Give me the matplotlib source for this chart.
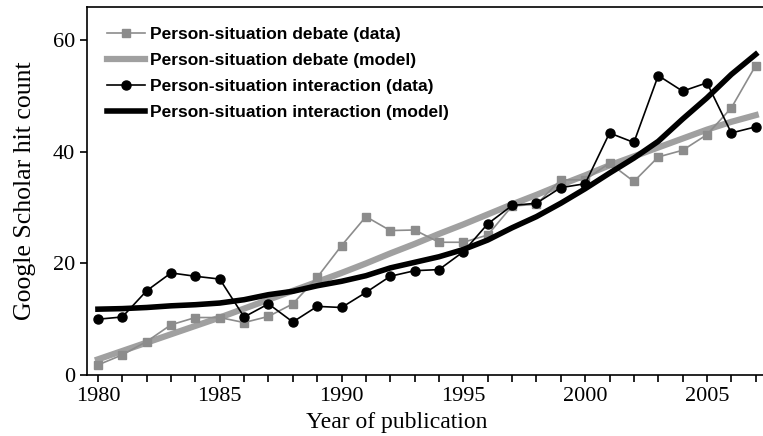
import matplotlib.pyplot as plt
from matplotlib.ticker import MultipleLocator

years = list(range(1980, 2008))

debate_data = [1.8, 3.6, 6.0, 9.0, 10.3, 10.3, 9.4, 10.5, 12.75, 17.5,
               23.2, 28.4, 25.9, 26.0, 23.8, 23.8, 25.1, 30.3, 30.6, 35.0,
               35.0, 38.0, 34.7, 39.1, 40.3, 43.1, 47.9, 55.5]
debate_model = [2.8, 4.3, 5.8, 7.3, 8.8, 10.3, 11.9, 13.5, 15.1, 16.7,
                18.3, 20.0, 21.8, 23.5, 25.3, 27.0, 28.8, 30.6, 32.3, 34.1,
                35.8, 37.6, 39.2, 40.8, 42.4, 44.0, 45.4, 46.6]
interaction_data = [10.0, 10.4, 15.1, 18.3, 17.7, 17.2, 10.4, 12.75, 9.5, 12.3,
                    12.1, 14.8, 17.7, 18.7, 18.9, 22.1, 27.1, 30.4, 30.8, 33.6,
                    34.3, 43.4, 41.7, 53.7, 50.9, 52.4, 43.4, 44.5]
interaction_model = [11.8, 11.9, 12.1, 12.4, 12.6, 12.9, 13.5, 14.4, 15.0, 16.0,
                     16.8, 17.8, 19.2, 20.2, 21.2, 22.5, 24.2, 26.4, 28.4, 30.8,
                     33.4, 36.2, 38.9, 41.9, 45.9, 49.7, 53.9, 57.5]

labels = ["Person-situation debate (data)", "Person-situation debate (model)",
          "Person-situation interaction (data)", "Person-situation interaction (model)"]

fig = plt.figure(figsize=(7.63, 4.36), dpi=100)
ax = fig.add_axes([0.114, 0.14, 0.886, 0.844])

ax.plot(years, debate_data, color="#8c8c8c", lw=1.2, marker="s", ms=6,
        label=labels[0], zorder=3)
ax.plot(years, debate_model, color="#a0a0a0", lw=4.5, label=labels[1], zorder=2)
ax.plot(years, interaction_data, color="black", lw=1.2, marker="o", ms=6.5,
        label=labels[2], zorder=4)
ax.plot(years, interaction_model, color="black", lw=4, label=labels[3], zorder=5)

ax.set_xlim(1979.55, 2007.3)
ax.set_ylim(0, 66)
ax.xaxis.set_major_locator(MultipleLocator(5))
ax.xaxis.set_minor_locator(MultipleLocator(1))
ax.yaxis.set_major_locator(MultipleLocator(20))
ax.tick_params(which="both", direction="out", length=5, width=1.2)
ax.tick_params(axis="x", which="major", pad=4)
for lab in ax.get_xticklabels() + ax.get_yticklabels():
    lab.set_fontfamily("Liberation Serif")
    lab.set_fontsize(16)
ax.spines["right"].set_visible(False)
for s in ("left", "bottom", "top"):
    ax.spines[s].set_linewidth(1.2)

ax.set_xlabel("Year of publication", fontfamily="Liberation Serif", fontsize=17)
ax.xaxis.set_label_coords(0.4586, -0.10)
ax.set_ylabel("Google Scholar hit count", fontfamily="Liberation Serif", fontsize=18.5,
              labelpad=12)

leg = ax.legend(loc="upper left", frameon=False, handlelength=2.2, handletextpad=0.3,
                labelspacing=0.62, borderaxespad=0.75,
                prop={"family": "Liberation Sans", "weight": "bold", "size": 12.5})

fig.savefig("out.png", dpi=100)
